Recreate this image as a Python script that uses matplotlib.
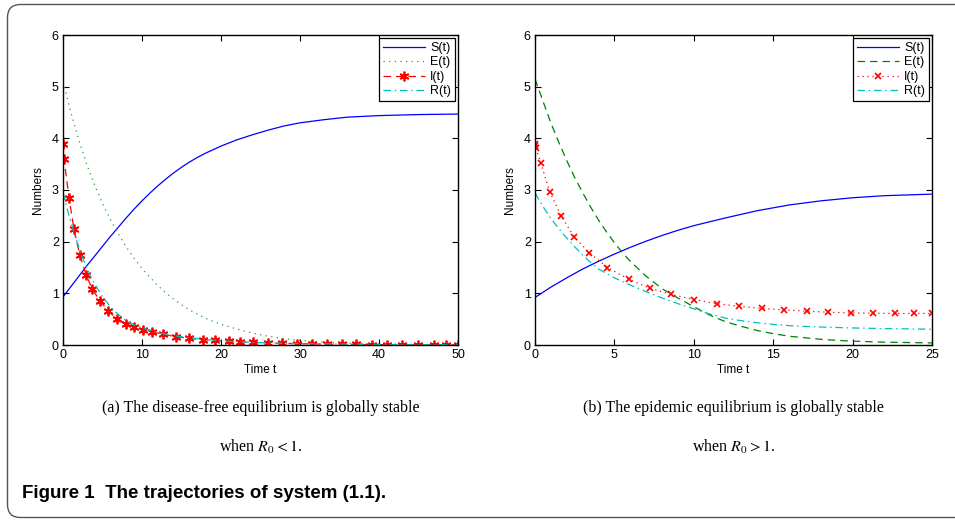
import numpy as np
import matplotlib
matplotlib.use('Agg')
import matplotlib.pyplot as plt
from matplotlib.path import Path
from matplotlib.patches import PathPatch

plt.rcParams['font.family'] = ['Liberation Sans', 'DejaVu Sans']
plt.rcParams['mathtext.fontset'] = 'stix'

# ---- panel (a): disease-free equilibrium, R0 < 1 ----
t_S_a = [0, 1, 2, 3, 4, 5, 6, 7, 8, 9, 10, 11, 12, 13, 14, 15, 16, 17, 18, 19, 20,
         22, 24, 26, 28, 30, 33, 36, 40, 45, 50]
S_a = [0.93, 1.13, 1.33, 1.53, 1.72, 1.91, 2.10, 2.28, 2.46, 2.63, 2.79, 2.94, 3.08,
       3.21, 3.33, 3.44, 3.54, 3.63, 3.71, 3.78, 3.85, 3.97, 4.07, 4.16, 4.24, 4.30,
       4.36, 4.41, 4.44, 4.46, 4.47]
t_E_a = [0, 1, 2, 3, 4, 5, 6, 7, 8, 9, 10, 11, 12, 13, 14, 15, 16, 17, 18, 19, 20,
         22, 24, 26, 28, 30, 33, 36, 40, 45, 50]
E_a = [5.1, 4.5, 3.97, 3.5, 3.1, 2.74, 2.43, 2.15, 1.9, 1.68, 1.48, 1.31, 1.15, 1.01,
       0.89, 0.78, 0.68, 0.6, 0.52, 0.46, 0.4, 0.31, 0.23, 0.17, 0.12, 0.09, 0.055,
       0.035, 0.02, 0.01, 0.005]
t_I_a = [0, 0.13, 0.76, 1.39, 2.11, 2.95, 3.71, 4.73, 5.74, 6.84, 7.97, 9.03, 10.08,
         11.3, 12.7, 14.26, 15.9, 17.7, 19.3, 21.0, 22.4, 24.0, 25.9, 27.7, 29.6, 31.5,
         33.4, 35.3, 37.1, 39.1, 41.0, 42.9, 44.9, 46.9, 48.5, 50.0]
I_a = [3.89, 3.60, 2.85, 2.24, 1.75, 1.35, 1.08, 0.845, 0.65, 0.51, 0.41, 0.35, 0.30,
       0.25, 0.21, 0.16, 0.13, 0.10, 0.09, 0.075, 0.062, 0.05, 0.04, 0.032, 0.026,
       0.02, 0.016, 0.013, 0.01, 0.008, 0.006, 0.005, 0.004, 0.003, 0.003, 0.002]
t_R_a = [0, 0.5, 1, 1.5, 2, 2.5, 3, 3.5, 4, 5, 6, 7, 8, 9, 10, 12, 14, 16, 18, 20,
         25, 30, 40, 50]
R_a = [2.95, 2.65, 2.38, 2.12, 1.9, 1.68, 1.5, 1.33, 1.18, 0.94, 0.74, 0.59, 0.47,
       0.39, 0.33, 0.24, 0.18, 0.14, 0.11, 0.08, 0.045, 0.025, 0.01, 0.005]

# ---- panel (b): epidemic equilibrium, R0 > 1 ----
t_S_b = [0, 1, 2, 3, 4, 5, 6, 7, 8, 9, 10, 12, 14, 16, 18, 20, 22, 25]
S_b = [0.92, 1.12, 1.30, 1.47, 1.62, 1.76, 1.89, 2.01, 2.12, 2.22, 2.31, 2.46, 2.60,
       2.71, 2.79, 2.85, 2.89, 2.92]
t_E_b = [0, 0.5, 1, 1.5, 2, 2.5, 3, 3.5, 4, 4.5, 5, 5.5, 6, 7, 8, 9, 10, 11, 12, 13,
         14, 15, 16, 17, 18, 19, 20, 22, 25]
E_b = [5.15, 4.72, 4.3, 3.92, 3.57, 3.24, 2.95, 2.67, 2.42, 2.19, 1.98, 1.79, 1.62,
       1.33, 1.09, 0.91, 0.74, 0.58, 0.45, 0.36, 0.28, 0.22, 0.17, 0.14, 0.11, 0.09,
       0.075, 0.055, 0.04]
t_I_b = [0, 0.02, 0.05, 0.36, 0.92, 1.66, 2.45, 3.4, 4.56, 5.92, 7.22, 8.59, 10.0,
         11.44, 12.85, 14.28, 15.7, 17.1, 18.48, 19.88, 21.3, 22.65, 23.87, 25.0]
I_b = [3.9, 3.86, 3.82, 3.53, 2.97, 2.49, 2.10, 1.79, 1.50, 1.27, 1.10, 0.98, 0.88,
       0.80, 0.75, 0.71, 0.68, 0.655, 0.635, 0.62, 0.615, 0.61, 0.61, 0.61]
t_R_b = [0, 0.5, 1, 1.5, 2, 2.5, 3, 3.5, 4, 5, 6, 7, 8, 9, 10, 11, 12, 13, 14, 15,
         16, 17, 18, 20, 22, 25]
R_b = [2.94, 2.68, 2.45, 2.25, 2.07, 1.9, 1.74, 1.6, 1.47, 1.3, 1.16, 1.03, 0.91,
       0.8, 0.7, 0.6, 0.52, 0.47, 0.43, 0.4, 0.375, 0.36, 0.348, 0.33, 0.318, 0.305]

labels = ['S(t)', 'E(t)', 'I(t)', 'R(t)']
captions = ['(a) The disease-free equilibrium is globally stable',
            '(b) The epidemic equilibrium is globally stable']
conditions = [r'when $R_0 < 1$.', r'when $R_0 > 1$.']

fig = plt.figure(figsize=(9.55, 5.2), dpi=100)

# rounded frame, open on the right side (pixel coords, origin bottom-left)
x0, yb, yt, r = 7.5, 2.5, 515.5, 13
frame_path = Path([(1000, yt), (x0 + r, yt), (x0, yt), (x0, yt - r),
                   (x0, yb + r), (x0, yb), (x0 + r, yb), (1000, yb)],
                  [Path.MOVETO, Path.LINETO, Path.CURVE3, Path.CURVE3,
                   Path.LINETO, Path.CURVE3, Path.CURVE3, Path.LINETO])
fig.patches.append(PathPatch(frame_path, transform=None, fill=False,
                             edgecolor='#555555', linewidth=1.0))

ax_a = fig.add_axes([63 / 955, 175 / 520, 395 / 955, 310 / 520])
ax_b = fig.add_axes([535 / 955, 175 / 520, 397 / 955, 310 / 520])

lw = 0.9
asterisk = (6, 2, 0)
ax_a.plot(t_S_a, S_a, color='blue', lw=lw, label=labels[0])
ax_a.plot(t_E_a, E_a, color='#2e9e2e', lw=lw, dashes=(1, 3.5), label=labels[1])
ax_a.plot(t_I_a, I_a, color='red', lw=lw, dashes=(6, 4), marker=asterisk, ms=7,
          mew=1.3, mec='red', label=labels[2])
ax_a.plot(t_R_a, R_a, color='#00bfbf', lw=lw, dashes=(6, 3, 1.2, 3), label=labels[3])

ax_b.plot(t_S_b, S_b, color='blue', lw=lw, label=labels[0])
ax_b.plot(t_E_b, E_b, color='#008000', lw=lw, dashes=(6, 4), label=labels[1])
ax_b.plot(t_I_b, I_b, color='red', lw=lw, dashes=(1, 3), marker='x', ms=5,
          mew=1.2, label=labels[2])
ax_b.plot(t_R_b, R_b, color='#00bfbf', lw=lw, dashes=(6, 3, 1.2, 3), label=labels[3])

for ax, xmax, step in [(ax_a, 50, 10), (ax_b, 25, 5)]:
    ax.set_xlim(0, xmax)
    ax.set_ylim(0, 6)
    ax.set_xticks(np.arange(0, xmax + 1, step))
    ax.set_yticks(range(7))
    ax.tick_params(direction='in', top=True, right=True, length=4, width=0.8,
                   labelsize=9, pad=3)
    for sp in ax.spines.values():
        sp.set_linewidth(1.0)
    ax.set_xlabel('Time t', fontsize=8.5, labelpad=2)
    ax.set_ylabel('Numbers', fontsize=8.5, labelpad=6)
    leg = ax.legend(loc='upper right', fontsize=9, numpoints=1, fancybox=False,
                    framealpha=1, edgecolor='black', handlelength=3.4,
                    borderpad=0.3, labelspacing=0.2, handletextpad=0.4,
                    borderaxespad=0.25)
    leg.get_frame().set_linewidth(0.9)

for ax, cap, cond in zip([ax_a, ax_b], captions, conditions):
    pos = ax.get_position()
    cx = (pos.x0 + pos.x1) / 2
    fig.text(cx, 1 - 408 / 520, cap, ha='center', va='center', fontsize=11.5,
             family='Liberation Serif')
    fig.text(cx, 1 - 447 / 520, cond, ha='center', va='center', fontsize=11.5,
             family='Liberation Serif')

fig.text(22 / 955, 1 - 494 / 520, 'Figure 1  The trajectories of system (1.1).',
         ha='left', va='center', fontsize=13.5, fontweight='bold')

fig.savefig('out.png', dpi=100)
